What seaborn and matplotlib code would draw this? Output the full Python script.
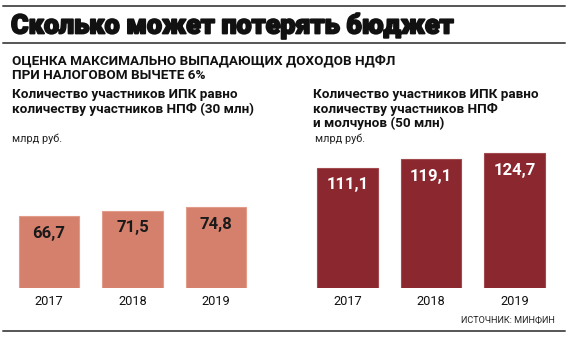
import matplotlib
matplotlib.use("Agg")
import matplotlib.pyplot as plt
import matplotlib.patheffects as pe
import seaborn as sns
import pandas as pd
from matplotlib.lines import Line2D

# ---- data ----
years = ["2017", "2018", "2019"]
values_30m = [66.7, 71.5, 74.8]
values_50m = [111.1, 119.1, 124.7]
labels_30m = ["66,7", "71,5", "74,8"]
labels_50m = ["111,1", "119,1", "124,7"]

title = "Сколько может потерять бюджет"
subtitle1 = "ОЦЕНКА МАКСИМАЛЬНО ВЫПАДАЮЩИХ ДОХОДОВ НДФЛ"
subtitle2 = "ПРИ НАЛОГОВОМ ВЫЧЕТЕ 6%"
head_left = ["Количество участников ИПК равно", "количеству участников НПФ (30 млн)"]
head_right = ["Количество участников ИПК равно", "количеству участников НПФ", "и молчунов (50 млн)"]
unit = "млрд руб."
source = "ИСТОЧНИК: МИНФИН"

sns.set_theme(style="white")
plt.rcParams["font.family"] = ["Roboto", "DejaVu Sans"]

W, H = 570, 337
fig = plt.figure(figsize=(W / 100, H / 100), dpi=100)
fig.patch.set_facecolor("white")

def fx(x):
    return x / W

def fy(y):
    return 1 - y / H

# horizontal rules
for y in (5.7, 43, 331):
    fig.add_artist(Line2D([fx(3), fx(565)], [fy(y), fy(y)], color="#555555", lw=1.4))

fig.text(fx(11), fy(33.5), title, fontsize=19.3, fontweight="heavy", color="#111111",
         va="baseline", ha="left",
         path_effects=[pe.withStroke(linewidth=1.3, foreground="#111111")])
fig.text(fx(12), fy(64), subtitle1, fontsize=9.7, fontweight="bold", color="#111111", va="baseline", ha="left")
fig.text(fx(12), fy(78.7), subtitle2, fontsize=9.7, fontweight="bold", color="#111111", va="baseline", ha="left")
for i, line in enumerate(head_left):
    fig.text(fx(12), fy(98.5 + 14.5 * i), line, fontsize=9.7, fontweight="bold", color="#111111", va="baseline", ha="left")
for i, line in enumerate(head_right):
    fig.text(fx(313), fy(98 + 14.5 * i), line, fontsize=9.7, fontweight="bold", color="#111111", va="baseline", ha="left")
fig.text(fx(12), fy(141.5), unit, fontsize=7.8, color="#222222", va="baseline", ha="left")
fig.text(fx(315), fy(141.5), unit, fontsize=7.8, color="#222222", va="baseline", ha="left")
fig.text(fx(555), fy(322), source, fontsize=6.6, color="#222222", va="baseline", ha="right")

bottom = (H - 288.3) / H
height = 150 * 1.083 / H
panels = [
    (7.3, values_30m, labels_30m, "#D4806C", "#E39C8A", "#1a1a1a"),
    (305.8, values_50m, labels_50m, "#8B272E", "#A04A50", "white"),
]
for left, vals, labs, col, edge, tcol in panels:
    ax = fig.add_axes([fx(left), bottom, 250.4 / W, height])
    df = pd.DataFrame({"year": years, "value": vals})
    sns.barplot(data=df, x="year", y="value", ax=ax, color=col, saturation=1,
                width=0.72, edgecolor=edge, linewidth=0.8)
    ax.set_xlim(-0.5, 2.5)
    ax.set_ylim(0, 150)
    ax.set_xlabel("")
    ax.set_ylabel("")
    ax.set_yticks([])
    ax.tick_params(axis="x", length=0, pad=5, labelsize=9.2, labelcolor="#111111")
    for s in ax.spines.values():
        s.set_visible(False)
    ax.patch.set_alpha(0)
    for i, (v, t) in enumerate(zip(vals, labs)):
        ax.annotate(t, (i, v), xytext=(0, -17), textcoords="offset pixels",
                    ha="center", va="center", fontsize=12, fontweight="bold", color=tcol)

fig.savefig("out.png", dpi=100, facecolor="white")
